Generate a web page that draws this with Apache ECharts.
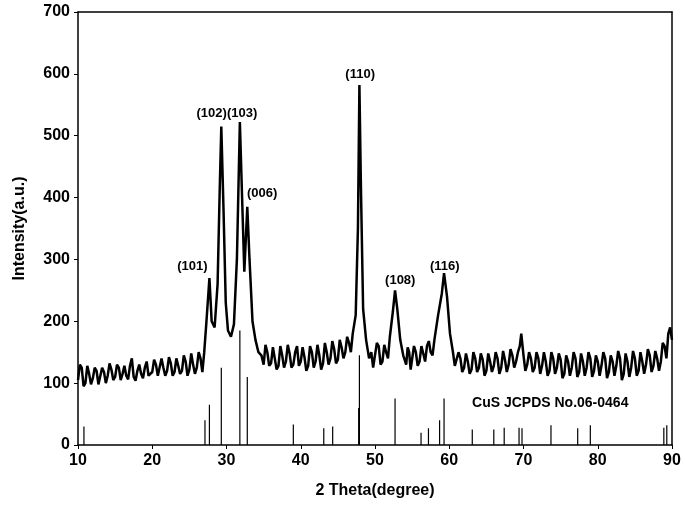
<!DOCTYPE html><html><head><meta charset="utf-8"><script src="https://cdn.jsdelivr.net/npm/echarts@6/dist/echarts.min.js"></script></head><body style="margin:0"><div id="c" style="width:685px;height:509px"></div><script>
const pattern=[[10,105],[10.25,130],[10.5,125],[10.75,95],[11,100],[11.25,128],[11.5,115],[11.75,98],[12,108],[12.25,125],[12.5,120],[12.75,98],[13,100],[13.25,125],[13.5,118],[13.75,100],[14,112],[14.25,132],[14.5,122],[14.75,105],[15,110],[15.25,130],[15.5,125],[15.75,105],[16,115],[16.25,128],[16.5,112],[16.75,106],[17,128],[17.25,140],[17.5,110],[17.75,104],[18,120],[18.25,130],[18.5,115],[18.75,108],[19,125],[19.25,135],[19.5,112],[19.75,110],[20,118],[20.25,138],[20.5,130],[20.75,112],[21,115],[21.25,140],[21.5,125],[21.75,112],[22,120],[22.25,142],[22.5,132],[22.75,112],[23,118],[23.25,140],[23.5,128],[23.75,115],[24,120],[24.25,145],[24.5,135],[24.75,112],[25,122],[25.25,148],[25.5,130],[25.75,115],[26,125],[26.25,150],[26.5,140],[26.75,118],[27,150],[27.3,200],[27.7,270],[28.0,200],[28.4,190],[28.8,260],[29.1,420],[29.3,515],[29.6,380],[29.9,230],[30.2,185],[30.6,175],[31.0,195],[31.4,300],[31.8,522],[32.1,400],[32.4,280],[32.8,385],[33.1,300],[33.5,200],[33.9,170],[34.3,150],[34.7,145],[35,130],[35.25,162],[35.5,150],[35.75,128],[36,132],[36.25,158],[36.5,140],[36.75,122],[37,128],[37.25,160],[37.5,145],[37.75,125],[38,135],[38.25,162],[38.5,148],[38.75,125],[39,130],[39.25,150],[39.5,160],[39.75,128],[40,135],[40.25,158],[40.5,142],[40.75,120],[41,128],[41.25,160],[41.5,150],[41.75,125],[42,135],[42.25,162],[42.5,145],[42.75,122],[43,132],[43.25,165],[43.5,150],[43.75,130],[44,140],[44.25,168],[44.5,155],[44.75,132],[45,138],[45.25,170],[45.5,158],[45.75,140],[46,150],[46.25,175],[46.5,165],[46.75,150],[47,180],[47.4,210],[47.7,350],[47.9,582],[48.1,420],[48.4,220],[48.8,170],[49.2,140],[49.5,150],[49.75,125],[50,128],[50.25,165],[50.5,160],[50.75,130],[51,135],[51.25,162],[51.5,150],[51.75,140],[52,175],[52.4,215],[52.7,250],[53,220],[53.4,170],[53.8,145],[54.2,130],[54.4,158],[54.6,150],[54.8,122],[55,125],[55.25,160],[55.5,150],[55.75,128],[56,135],[56.25,160],[56.5,148],[56.75,135],[57,160],[57.25,168],[57.5,150],[57.75,145],[58,170],[58.5,210],[59,245],[59.3,278],[59.7,240],[60.1,180],[60.5,150],[60.75,128],[61,130],[61.25,150],[61.5,140],[61.75,118],[62,125],[62.25,148],[62.5,135],[62.75,115],[63,122],[63.25,150],[63.5,140],[63.75,118],[64,125],[64.25,148],[64.5,138],[64.75,112],[65,120],[65.25,148],[65.5,135],[65.75,118],[66,128],[66.25,150],[66.5,140],[66.75,115],[67,125],[67.25,152],[67.5,138],[67.75,118],[68,130],[68.25,155],[68.5,145],[68.75,125],[69,135],[69.25,150],[69.5,160],[69.7,180],[70,145],[70.25,120],[70.5,130],[70.75,150],[71,140],[71.25,118],[71.5,125],[71.75,150],[72,140],[72.25,115],[72.5,128],[72.75,150],[73,135],[73.25,112],[73.5,120],[73.75,150],[74,140],[74.25,115],[74.5,125],[74.75,148],[75,138],[75.25,108],[75.5,115],[75.75,145],[76,135],[76.25,112],[76.5,125],[76.75,150],[77,140],[77.25,110],[77.5,118],[77.75,148],[78,135],[78.25,112],[78.5,125],[78.75,150],[79,140],[79.25,110],[79.5,120],[79.75,145],[80,135],[80.25,112],[80.5,128],[80.75,150],[81,140],[81.25,108],[81.5,118],[81.75,145],[82,135],[82.25,112],[82.5,128],[82.75,152],[83,140],[83.25,105],[83.5,115],[83.75,148],[84,135],[84.25,110],[84.5,125],[84.75,152],[85,140],[85.25,112],[85.5,120],[85.75,150],[86,135],[86.25,115],[86.5,130],[86.75,155],[87,145],[87.25,118],[87.5,128],[87.75,152],[88,140],[88.25,120],[88.5,135],[88.75,165],[89,160],[89.25,140],[89.5,180],[89.75,190],[90,170]];
const refPos=[10.8,27.1,27.7,29.3,31.8,32.8,39.0,43.1,44.3,47.8,47.9,52.7,56.2,57.2,58.7,59.3,63.1,66.0,67.4,69.4,69.8,73.7,77.3,79.0,88.9,89.3];
const refInt=[30,40,65,125,185,110,33,27,30,60,145,75,20,27,40,75,25,25,28,28,27,32,27,32,28,32];
const peakLabels=['(101)','(102)','(103)','(006)','(110)','(108)','(116)'];
const peakPos=[[25.4,278],[28.0,525],[32.1,525],[34.8,396],[48.0,589],[53.4,255],[59.4,278]];
const refLabel='CuS JCPDS No.06-0464';
const refs=[];refPos.forEach((x,i)=>{refs.push([x,0],[x,refInt[i]],[x,null]);});
const f={fontFamily:'Liberation Sans, Arial',fontWeight:'bold',color:'#000'};
const ch=echarts.init(document.getElementById('c'));
ch.setOption({animation:false,
grid:{left:78,right:13,top:12,bottom:64},
xAxis:[{type:'value',min:10,max:90,interval:10,axisLine:{lineStyle:{color:'#000',width:1.5}},axisTick:{show:true,length:4,lineStyle:{color:'#000'}},splitLine:{show:false},axisLabel:Object.assign({fontSize:16,margin:8},f),name:'2 Theta(degree)',nameLocation:'middle',nameGap:38,nameTextStyle:Object.assign({fontSize:16},f)},
{type:'value',position:'top',min:10,max:90,axisLine:{show:true,onZero:false,lineStyle:{color:'#000',width:1.5}},axisTick:{show:false},axisLabel:{show:false},splitLine:{show:false}}],
yAxis:[{type:'value',min:0,max:700,interval:100,axisLine:{show:true,lineStyle:{color:'#000',width:1.5}},axisTick:{show:true,length:4,lineStyle:{color:'#000'}},splitLine:{show:false},axisLabel:Object.assign({fontSize:16,margin:8},f),name:'Intensity(a.u.)',nameLocation:'middle',nameGap:50,nameTextStyle:Object.assign({fontSize:16},f)},
{type:'value',position:'right',min:0,max:700,axisLine:{show:true,onZero:false,lineStyle:{color:'#000',width:1.5}},axisTick:{show:false},axisLabel:{show:false},splitLine:{show:false}}],
series:[
{type:'line',data:pattern,symbol:'none',lineStyle:{color:'#000',width:2.5}},
{type:'line',data:refs,symbol:'none',connectNulls:false,lineStyle:{color:'#000',width:1.2}},
{type:'scatter',symbolSize:0,itemStyle:{opacity:1},data:peakPos.map((p,i)=>({value:p,name:peakLabels[i]})),label:Object.assign({show:true,position:'top',distance:0,fontSize:13,formatter:p=>p.name},f)},
{type:'scatter',symbolSize:0,itemStyle:{opacity:1},data:[{value:[73.6,56],name:refLabel}],label:Object.assign({show:true,position:'top',distance:0,fontSize:14,formatter:p=>p.name},f)}
]});
</script></body></html>
